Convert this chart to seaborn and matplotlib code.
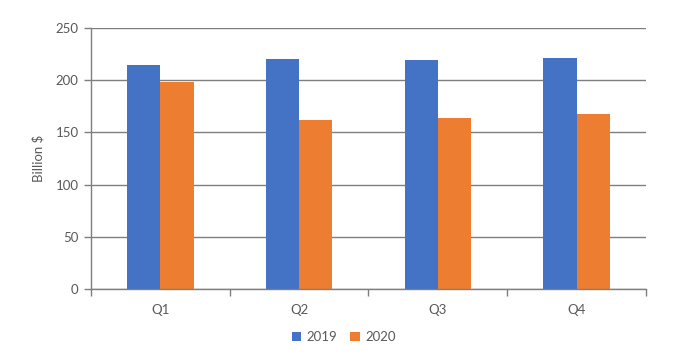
import matplotlib
matplotlib.use("Agg")
import matplotlib.pyplot as plt
import seaborn as sns
import pandas as pd
import numpy as np

quarters = ["Q1", "Q2", "Q3", "Q4"]
series = ["2019", "2020"]
values_2019 = [215, 220, 219, 221]
values_2020 = [198, 162, 164, 168]
yticks = [0, 50, 100, 150, 200, 250]

df = pd.DataFrame({
    "Quarter": quarters * 2,
    "Year": [series[0]] * 4 + [series[1]] * 4,
    "Value": values_2019 + values_2020,
})

sns.set_theme(style="white")
plt.rcParams["font.family"] = ["Lato", "DejaVu Sans"]
text_color = "#595959"
grid_color = "#7f7f7f"
fs = 9.5

fig = plt.figure(figsize=(6.74, 3.6), dpi=100)
ax = fig.add_axes([91 / 674, 1 - 289 / 360, (646 - 91) / 674, (289 - 28) / 360])

sns.barplot(data=df, x="Quarter", y="Value", hue="Year", order=quarters,
            hue_order=series, palette=["#4472C4", "#ED7D31"], width=0.48,
            saturation=1, linewidth=0, ax=ax, legend=True)

ax.set_ylim(0, 250)
ax.set_xlim(-0.5, 3.5)
ax.set_yticks(yticks)
ax.set_yticklabels([str(t) for t in yticks])
ax.yaxis.grid(True, color=grid_color, linewidth=1.0)
ax.set_axisbelow(True)

ax.set_xticks(np.arange(len(quarters)))
ax.set_xticklabels(quarters)
ax.set_xticks(np.arange(len(quarters) + 1) - 0.5, minor=True)
ax.tick_params(axis="x", which="major", length=0, pad=11, labelsize=fs, colors=text_color)
ax.tick_params(axis="x", which="minor", length=5, width=1, color=grid_color, direction="out", bottom=True)
ax.tick_params(axis="y", which="major", length=5, width=1, color=grid_color, direction="out",
               left=True, labelsize=fs, labelcolor=text_color, pad=4)

for s in ["top", "right"]:
    ax.spines[s].set_visible(False)
for s in ["left", "bottom"]:
    ax.spines[s].set_color(grid_color)
    ax.spines[s].set_linewidth(1.0)

ax.set_xlabel("")
ax.set_ylabel("Billion $", fontsize=fs, color=text_color, labelpad=8)

handles, labels = ax.get_legend_handles_labels()
ax.legend(handles, labels, loc="center", bbox_to_anchor=(0.51, 1 - 337 / 360),
          bbox_transform=fig.transFigure, ncol=2, frameon=False, fontsize=fs,
          handlelength=0.7, handleheight=0.7, handletextpad=0.4, columnspacing=1.0,
          labelcolor=text_color)

fig.savefig("out.png", dpi=100)
